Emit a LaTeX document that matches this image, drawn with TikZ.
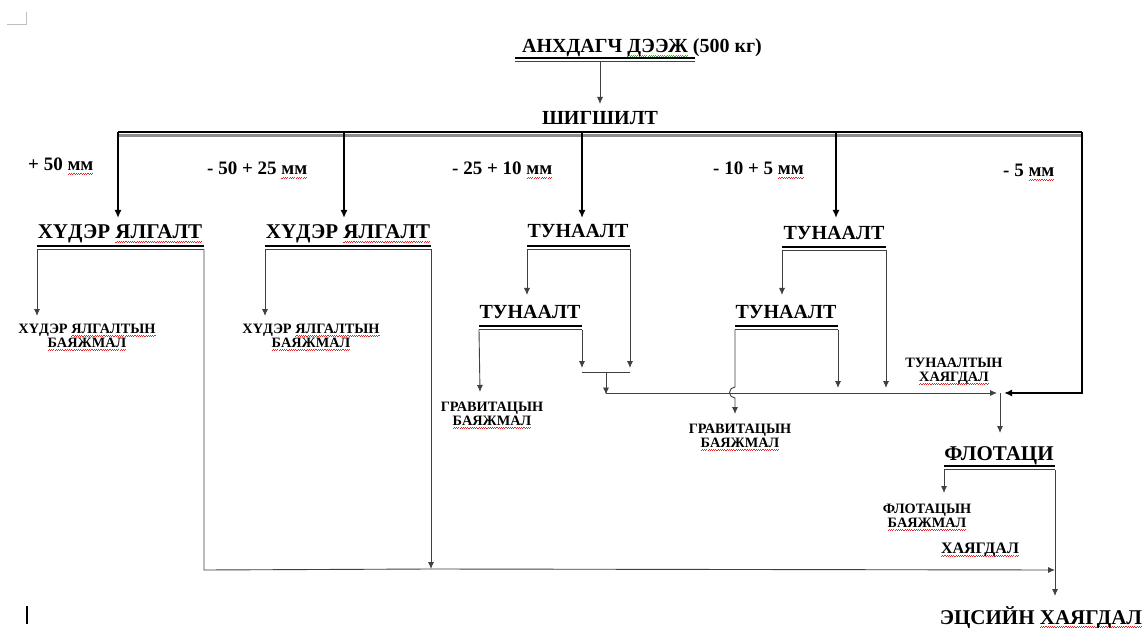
\documentclass[tikz,border=0pt]{standalone}
\usepackage{fontspec}
\setmainfont{Liberation Serif}
\usepackage{xcolor}
\usetikzlibrary{arrows.meta}
\definecolor{spellred}{RGB}{225,40,40}
\definecolor{spellgreen}{RGB}{70,160,70}
\newcommand{\wavy}[2]{\setbox0=\hbox{#2}\leavevmode\rlap{\smash{\textcolor{#1}{\hbox to \wd0{\xleaders\hbox{\rule[-3.4pt]{1.1pt}{0.7pt}\rule[-2.7pt]{1.1pt}{0.7pt}}\hfill}}}}\box0\relax}
\newcommand{\redw}[1]{\wavy{spellred}{#1}}
\newcommand{\greenw}[1]{\wavy{spellgreen}{#1}}

\begin{document}
\begin{tikzpicture}[x=1pt,y=-1pt,
  big/.style={font=\fontsize{21}{23}\selectfont\bfseries, inner sep=0pt},
  tun/.style={font=\fontsize{20}{22}\selectfont\bfseries, inner sep=0pt},
  mid/.style={font=\fontsize{16}{18}\selectfont\bfseries, inner sep=0pt},
  sizetxt/.style={font=\fontsize{19}{21}\selectfont\bfseries, inner sep=0pt},
  small/.style={font=\fontsize{14.3}{14}\selectfont\bfseries, inner sep=0pt, align=center},
  bar/.style={line width=2.2pt},
  conn/.style={line width=0.9pt, black!75},
  flow/.style={conn, -{Latex[length=7pt,width=6pt]}},
  main/.style={line width=2.4pt, -{Latex[length=8pt,width=7pt]}},
]
\fill[white] (0,0) rectangle (1148,628);
\useasboundingbox (0,0) rectangle (1148,628);

% page marks
\draw[black!25, line width=1pt] (7,25) -- (26,25) -- (26,12);
\draw[line width=2pt] (27,606) -- (27,624);

% texts
\node[tun, anchor=base west] (src) at (522,53) {АНХДАГЧ \greenw{ДЭЭЖ} (500 кг)};
\node[tun, anchor=base] (sieve) at (600,125) {ШИГШИЛТ};

\node[sizetxt, anchor=base west] (r1) at (28,171) {+ 50 \redw{мм}};
\node[sizetxt, anchor=base west] (r2) at (207,175) {- 50 + 25 \redw{мм}};
\node[sizetxt, anchor=base west] (r3) at (452,175) {- 25 + 10 \redw{мм}};
\node[sizetxt, anchor=base west] (r4) at (713,175) {- 10 + 5 \redw{мм}};
\node[sizetxt, anchor=base west] (r5) at (1003,177) {- 5 \redw{мм}};

\node[big, anchor=base] (hy1) at (120,239) {ХҮДЭР \redw{ЯЛГАЛТ}};
\node[big, anchor=base] (hy2) at (348,239) {ХҮДЭР \redw{ЯЛГАЛТ}};
\node[tun, anchor=base] (tu1) at (578,238) {ТУНААЛТ};
\node[tun, anchor=base] (tu3) at (834,240) {ТУНААЛТ};
\node[tun, anchor=base] (tu2) at (530,318) {ТУНААЛТ};
\node[tun, anchor=base] (tu4) at (786,318) {ТУНААЛТ};
\node[big, anchor=base] (fl) at (999,460) {ФЛОТАЦИ};
\node[big, anchor=base] (waste) at (1041,624) {ЭЦСИЙН \redw{ХАЯГДАЛ}};

\node[small, anchor=base] (hyc1) at (87,347) {ХҮДЭР \redw{ЯЛГАЛТЫН}\\\redw{БАЯЖМАЛ}};
\node[small, anchor=base] (hyc2) at (311,347) {ХҮДЭР \redw{ЯЛГАЛТЫН}\\\redw{БАЯЖМАЛ}};
\node[small, anchor=base] (grc1) at (492,425) {ГРАВИТАЦЫН\\\redw{БАЯЖМАЛ}};
\node[small, anchor=base] (grc2) at (740,447) {ГРАВИТАЦЫН\\\redw{БАЯЖМАЛ}};
\node[small, anchor=base] (tut) at (954,381) {ТУНААЛТЫН\\\redw{ХАЯГДАЛ}};
\node[small, anchor=base] (flc) at (927,527) {ФЛОТАЦЫН\\\redw{БАЯЖМАЛ}};
\node[mid, anchor=base] (flt) at (980,553) {\redw{ХАЯГДАЛ}};

% double bars under the stages
\foreach \n/\a/\b/\y in {src/515/695/58, hy1/37/204/246, hy2/265/431/246,
    tu1/527/630/246, tu3/782/886/247, tu2/479/582/326, tu4/735/838/326,
    fl/944/1055/466}{
  \draw[bar] (\a,\y) -- (\b,\y);
  \draw[conn] (\a,\y+3.5) -- (\b,\y+3.5);
  \coordinate (\n-l) at (\a,\y+3.5);
  \coordinate (\n-r) at (\b,\y+3.5);
}
\coordinate (src-o) at (600,61.5);

% screen line
\coordinate (s-l) at (118,132);
\coordinate (s-r) at (1082,132);
\draw[black!45, line width=3.5pt] (118,135.5) -- (1082,135.5);
\draw[line width=1.8pt] (s-l) -- (s-r);

% free ends
\coordinate (s-in) at (600,104);
\coordinate (b1) at (118,218);
\coordinate (b2) at (344,218);
\coordinate (b3) at (582,218);
\coordinate (b4) at (836,218);
\coordinate (hy1-o) at (37,316);
\coordinate (hy2-o) at (265,316);
\coordinate (hy1-d) at (204,570);
\coordinate (hy2-d) at (431,569);
\coordinate (tail) at (1055,570);
\coordinate (tu1-o) at (527,295);
\coordinate (tu1-d) at (630,368);
\coordinate (tu2-o) at (480,392);
\coordinate (tu2-d) at (582,368);
\coordinate (j-l) at (582,372);
\coordinate (j-r) at (630,372);
\coordinate (j-m) at (606,372);
\coordinate (m-s) at (606,393);
\coordinate (mix-l) at (997,393);
\coordinate (mix-r) at (1004,393);
\coordinate (mix) at (1000,393);
\coordinate (ret) at (1082,393);
\coordinate (tu3-o) at (782,295);
\coordinate (tu3-d) at (886,388);
\coordinate (tu4-d) at (838,388);
\coordinate (hop) at (735,387);
\coordinate (tu4-o) at (735,414);
\coordinate (fl-in) at (1000,433);
\coordinate (fl-o) at (944,493);
\coordinate (fl-d) at (1055,596);

% feed and screening
\draw[flow] (src-o) -- (s-in);
\draw[main] (s-l) -- (b1);
\draw[main] (b2 |- s-l) -- (b2);
\draw[main] (b3 |- s-l) -- (b3);
\draw[main] (b4 |- s-l) -- (b4);
\draw[main] (s-r) -- (ret) -- (mix-r);

% ore sorting
\draw[flow] (hy1-l) -- (hy1-o);
\draw[flow] (hy2-l) -- (hy2-o);
\draw[conn] (hy1-r) -- (hy1-d) -- (hy2-d);
\draw[flow] (hy2-r) -- (hy2-d);
\draw[flow] (hy2-d) -- (tail);

% gravity
\draw[flow] (tu1-l) -- (tu1-o);
\draw[flow] (tu1-r) -- (tu1-d);
\draw[flow] (tu2-l) -- (tu2-o);
\draw[flow] (tu2-r) -- (tu2-d);
\draw[conn] (j-l) -- (j-r);
\draw[flow] (j-m) -- ([yshift=-1.5pt]m-s);
\draw[flow] (m-s) -- (mix-l);
\draw[flow] (tu3-l) -- (tu3-o);
\draw[flow] (tu3-r) -- (tu3-d);
\draw[flow] (tu4-r) -- (tu4-d);
\draw[flow] (tu4-l) -- (hop) arc[start angle=270, end angle=90, radius=5.5] -- (tu4-o);

% flotation
\draw[flow] (mix) -- (fl-in);
\draw[flow] (fl-l) -- (fl-o);
\draw[flow] (fl-r) -- (fl-d);
\end{tikzpicture}
\end{document}
